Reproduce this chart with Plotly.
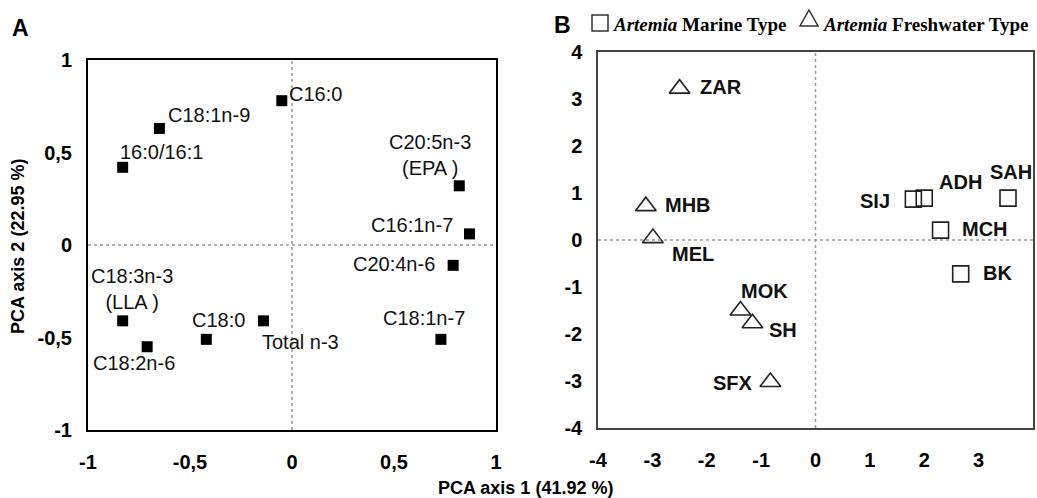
import plotly.graph_objects as go

# ---------------- Panel A data (fatty acid loadings) ----------------
fa_labels = ["C16:0", "C18:1n-9", "16:0/16:1", "C20:5n-3<br>(EPA )", "C16:1n-7",
             "C20:4n-6", "C18:1n-7", "C18:3n-3<br>(LLA )", "C18:2n-6", "C18:0", "Total n-3"]
fa_pc1 = [-0.05, -0.65, -0.83, 0.82, 0.87, 0.79, 0.73, -0.83, -0.71, -0.42, -0.14]
fa_pc2 = [0.78, 0.63, 0.42, 0.32, 0.06, -0.11, -0.51, -0.41, -0.55, -0.51, -0.41]

# ---------------- Panel B data (Artemia populations) ----------------
marine_sites = ["SIJ", "ADH", "SAH", "MCH", "BK"]
marine_pc1 = [1.80, 2.00, 3.54, 2.30, 2.67]
marine_pc2 = [0.87, 0.89, 0.89, 0.21, -0.72]

fresh_sites = ["ZAR", "MHB", "MEL", "MOK", "SH", "SFX"]
fresh_pc1 = [-2.50, -3.12, -2.99, -1.38, -1.16, -0.83]
fresh_pc2 = [3.22, 0.72, 0.04, -1.50, -1.77, -3.02]

legend_names = ["<i>Artemia</i> Marine Type", "<i>Artemia</i> Freshwater Type"]

tick_a = [-1, -0.5, 0, 0.5, 1]
tick_a_text = ["-1", "-0,5", "0", "0,5", "1"]
tick_b = [-4, -3, -2, -1, 0, 1, 2, 3, 4]
tick_b_text = [str(v) for v in tick_b]

# label placement styles (pixel offsets, anchor)
fa_label_style = {
    "C16:0": (5, 7, "left"),
    "C18:1n-9": (7, 13, "left"),
    "16:0/16:1": (-5, 15, "left"),
    "C20:5n-3<br>(EPA )": (-29, 31, "center"),
    "C16:1n-7": (-14, 9, "right"),
    "C20:4n-6": (-16, 1, "right"),
    "C18:1n-7": (-17, 21, "center"),
    "C18:3n-3<br>(LLA )": (9, 32, "center"),
    "C18:2n-6": (-13, -16, "center"),
    "C18:0": (12, 19, "center"),
    "Total n-3": (-3, -21, "left"),
}
site_label_style = {
    "ZAR": (18, 2, "left"), "MHB": (17, 1, "left"), "MEL": (17, -16, "left"),
    "MOK": (24, 20, "center"), "SH": (15, -7, "left"), "SFX": (-15, -1, "right"),
    "SIJ": (-21, -2, "right"), "ADH": (13, 16, "left"), "SAH": (3, 26, "center"),
    "MCH": (19, 1, "left"), "BK": (20, 1, "left"),
}

SANS = "Liberation Sans, Arial, sans-serif"
SERIF = "Liberation Serif, Times New Roman, serif"
W, H = 1037, 498


def px(x):
    return x / W


def py(y):
    return 1 - y / H


fig = go.Figure()

fig.add_trace(go.Scatter(
    x=fa_pc1, y=fa_pc2, mode="markers", xaxis="x", yaxis="y", showlegend=False,
    marker=dict(symbol="square", size=11, color="black"), hoverinfo="text", text=fa_labels))

fig.add_trace(go.Scatter(
    x=marine_pc1, y=marine_pc2, mode="markers", xaxis="x2", yaxis="y2",
    name=legend_names[0], showlegend=False,
    marker=dict(symbol="square-open", size=16, color="#222", line=dict(width=1.6)),
    text=marine_sites, hoverinfo="text"))

fig.add_trace(go.Scatter(
    x=fresh_pc1, y=fresh_pc2, mode="markers", xaxis="x2", yaxis="y2",
    name=legend_names[1], showlegend=False,
    marker=dict(symbol="triangle-up-open", size=18, color="#222", line=dict(width=1.6)),
    text=fresh_sites, hoverinfo="text"))

annotations = []
for lab, xv, yv in zip(fa_labels, fa_pc1, fa_pc2):
    dx, dy, anc = fa_label_style[lab]
    annotations.append(dict(x=xv, y=yv, xref="x", yref="y", text=lab, showarrow=False,
                            xanchor=anc, yanchor="middle", xshift=dx, yshift=dy,
                            font=dict(family=SANS, size=20, color="#111")))
for labs, xs, ys in ((marine_sites, marine_pc1, marine_pc2), (fresh_sites, fresh_pc1, fresh_pc2)):
    for lab, xv, yv in zip(labs, xs, ys):
        dx, dy, anc = site_label_style[lab]
        annotations.append(dict(x=xv, y=yv, xref="x2", yref="y2", text=lab, showarrow=False,
                                xanchor=anc, yanchor="middle", xshift=dx, yshift=dy,
                                font=dict(family=SANS, size=20, color="#111", weight="bold")))

legend_font = dict(family=SERIF, size=19, color="black", weight="bold")
annotations += [
    dict(x=px(20), y=py(28), xref="paper", yref="paper", text="A", showarrow=False,
         xanchor="center", yanchor="middle", font=dict(family=SANS, size=23, color="black", weight="bold")),
    dict(x=px(562), y=py(25), xref="paper", yref="paper", text="B", showarrow=False,
         xanchor="center", yanchor="middle", font=dict(family=SANS, size=23, color="black", weight="bold")),
    dict(x=px(525), y=py(488), xref="paper", yref="paper", text="PCA axis 1 (41.92 %)",
         showarrow=False, xanchor="center", yanchor="middle",
         font=dict(family=SANS, size=18, color="black", weight="bold")),
    dict(x=px(18), y=py(247), xref="paper", yref="paper", text="PCA axis 2 (22.95 %)",
         showarrow=False, xanchor="center", yanchor="middle", textangle=-90,
         font=dict(family=SANS, size=18, color="black", weight="bold")),
    # legend entries
    dict(x=px(611), y=py(24), xref="paper", yref="paper", text=legend_names[0], showarrow=False,
         xanchor="left", yanchor="middle", font=legend_font),
    dict(x=px(821), y=py(24), xref="paper", yref="paper", text=legend_names[1], showarrow=False,
         xanchor="left", yanchor="middle", font=legend_font),
]

shapes = [
    dict(type="line", xref="x", yref="y domain", x0=0, x1=0, y0=0, y1=1,
         line=dict(color="#999", width=1.5, dash="dot")),
    dict(type="line", xref="x domain", yref="y", x0=0, x1=1, y0=0, y1=0,
         line=dict(color="#999", width=1.5, dash="dot")),
    dict(type="line", xref="x2", yref="y2 domain", x0=0, x1=0, y0=0, y1=1,
         line=dict(color="#999", width=1.5, dash="dot")),
    dict(type="line", xref="x2 domain", yref="y2", x0=0, x1=1, y0=0, y1=0,
         line=dict(color="#999", width=1.5, dash="dot")),
    # legend symbols
    dict(type="rect", xref="paper", yref="paper", x0=px(592), x1=px(608), y0=py(31), y1=py(15),
         line=dict(color="#333", width=1.5), fillcolor="rgba(0,0,0,0)"),
    dict(type="path", xref="paper", yref="paper",
         path=f"M {px(800)} {py(26)} L {px(818)} {py(26)} L {px(809)} {py(10)} Z",
         line=dict(color="#333", width=1.5), fillcolor="rgba(0,0,0,0)"),
]

tickfont = dict(family=SANS, size=20, color="black", weight="bold")
common = dict(showgrid=False, zeroline=False, ticks="", showline=True, mirror=True,
              tickfont=tickfont, automargin=False)

fig.update_layout(
    width=W, height=H, autosize=False,
    margin=dict(l=0, r=0, t=0, b=0, autoexpand=False),
    paper_bgcolor="white", plot_bgcolor="white",
    xaxis=dict(domain=[px(88), px(496)], range=[-1, 1], tickvals=tick_a, ticktext=tick_a_text,
               anchor="y", linecolor="black", linewidth=2, ticklabelstandoff=13, **common),
    yaxis=dict(domain=[py(430), py(60)], range=[-1, 1], tickvals=tick_a, ticktext=tick_a_text,
               anchor="x", linecolor="black", linewidth=2, ticklabelstandoff=10, **common),
    xaxis2=dict(domain=[px(598), px(1033)], range=[-4, 4], tickvals=tick_b, ticktext=tick_b_text,
                anchor="y2", linecolor="#444", linewidth=1.5, ticklabelstandoff=13, **common),
    yaxis2=dict(domain=[py(428), py(52)], range=[-4, 4], tickvals=tick_b, ticktext=tick_b_text,
                anchor="x2", linecolor="#444", linewidth=1.5, ticklabelstandoff=10, **common),
    showlegend=False,
    annotations=annotations,
    shapes=shapes,
)

fig.write_html("out.html", config={"displayModeBar": False},
               post_script="document.body.style.margin='0px';document.body.style.overflow='hidden';")
